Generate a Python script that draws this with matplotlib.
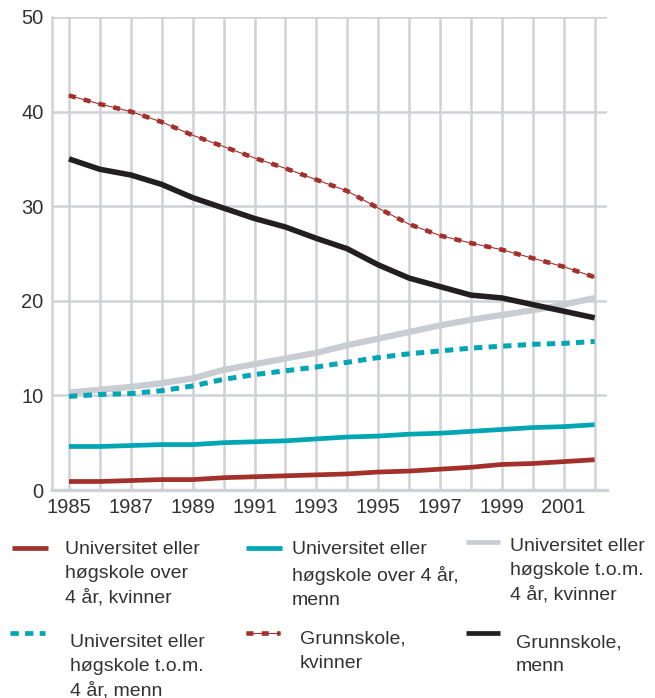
import numpy as np
import matplotlib
matplotlib.use("Agg")
import matplotlib.pyplot as plt
from matplotlib.lines import Line2D

## share of people aged ... by education level, 1985-2002
years = list(range(1985, 2003))

uni_over4_kvinner = [0.9, 0.9, 1.0, 1.1, 1.1, 1.3, 1.4, 1.5, 1.6, 1.7,
                     1.9, 2.0, 2.2, 2.4, 2.7, 2.8, 3.0, 3.2]
uni_over4_menn = [4.6, 4.6, 4.7, 4.8, 4.8, 5.0, 5.1, 5.2, 5.4, 5.6,
                  5.7, 5.9, 6.0, 6.2, 6.4, 6.6, 6.7, 6.9]
uni_tom4_kvinner = [10.3, 10.6, 10.9, 11.3, 11.8, 12.7, 13.3, 13.9, 14.5, 15.3,
                    16.0, 16.7, 17.4, 18.0, 18.5, 19.0, 19.6, 20.3]
uni_tom4_menn = [9.9, 10.1, 10.2, 10.5, 11.0, 11.7, 12.2, 12.6, 13.0, 13.5,
                 14.0, 14.4, 14.7, 15.0, 15.2, 15.4, 15.5, 15.7]
grunn_kvinner = [41.7, 40.8, 40.0, 38.9, 37.5, 36.3, 35.1, 34.0, 32.8, 31.6,
                 29.8, 28.1, 26.9, 26.1, 25.4, 24.5, 23.6, 22.5]
grunn_menn = [35.0, 33.9, 33.3, 32.3, 30.9, 29.8, 28.7, 27.8, 26.6, 25.5,
              23.8, 22.4, 21.5, 20.6, 20.3, 19.6, 18.9, 18.2]

labels = ["Universitet eller\nhøgskole over\n4 år, kvinner",
          "Universitet eller\nhøgskole over 4 år,\nmenn",
          "Universitet eller\nhøgskole t.o.m.\n4 år, kvinner",
          "Universitet eller\nhøgskole t.o.m.\n4 år, menn",
          "Grunnskole,\nkvinner",
          "Grunnskole,\nmenn"]

RED = "#a3302a"
TEAL = "#00a6b4"
GREY = "#c9ccd3"
BLACK = "#231f20"
GRID = "#cfd1d7"
TXT = "#333333"

plt.rcParams['font.family'] = ['Liberation Sans', 'DejaVu Sans']
plt.rcParams['lines.scale_dashes'] = False

fig = plt.figure(figsize=(6.55, 6.98), dpi=100)
ax = fig.add_axes([52/655, 1 - 490/698, (607-52)/655, (490-17)/698])

ax.plot(years, uni_tom4_kvinner, color=GREY, lw=4.5, solid_capstyle='butt', zorder=3)
ax.plot(years, uni_tom4_menn, color=TEAL, lw=3.6, dashes=(6, 4.5), dash_capstyle='butt', zorder=4)
ax.plot(years, uni_over4_kvinner, color=RED, lw=3.4, solid_capstyle='butt', zorder=4)
ax.plot(years, uni_over4_menn, color=TEAL, lw=3.4, solid_capstyle='butt', zorder=4)
ax.plot(years, grunn_menn, color=BLACK, lw=4.0, solid_capstyle='butt', zorder=5)
ax.plot(years, grunn_kvinner, color=RED, lw=0.8, zorder=5)
ax.plot(years, grunn_kvinner, color=RED, lw=3.3, dashes=(5, 6), dash_capstyle='butt', zorder=5)

ax.set_xlim(1984.45, 2002.4)
ax.set_ylim(0, 50)
ax.set_xticks(range(1985, 2002, 2))
ax.set_xticks(years, minor=True)
ax.set_yticks(range(0, 51, 10))
ax.grid(True, which='both', axis='x', color=GRID, lw=1.8)
ax.grid(True, axis='y', color=GRID, lw=1.8)
ax.set_axisbelow(True)
ax.tick_params(which='both', length=0, labelsize=14.5, labelcolor=TXT)
ax.tick_params(axis='x', pad=6)
ax.tick_params(axis='y', pad=6)
for s in ['top', 'right']:
    ax.spines[s].set_visible(False)
ax.spines['left'].set_color(GRID)
ax.spines['left'].set_linewidth(1.8)
ax.spines['bottom'].set_color(GRID)
ax.spines['bottom'].set_linewidth(2.4)

## legend drawn by hand so the handles sit at the first text line
def fx(px):
    return px / 655

def fy(py):
    return 1 - py / 698

def handle(x0, x1, y, **kw):
    fig.add_artist(Line2D([fx(x0), fx(x1)], [fy(y), fy(y)], transform=fig.transFigure, **kw))

handle(12, 48, 548, color=RED, lw=3.4, solid_capstyle='butt')
handle(246, 282, 548, color=TEAL, lw=3.4, solid_capstyle='butt')
handle(466, 500, 542, color=GREY, lw=3.4, solid_capstyle='butt')
handle(10, 45, 633, color=TEAL, lw=3.4, dashes=(6, 4.5), dash_capstyle='butt')
handle(246, 280, 633, color=RED, lw=0.8)
handle(246, 280, 633, color=RED, lw=3.3, dashes=(5, 6), dash_capstyle='butt')
handle(466, 500, 633, color=BLACK, lw=3.4, solid_capstyle='butt')

txt_pos = [(65, 541), (292, 541), (510, 538), (70, 634), (300, 631), (516, 634)]
for (px, py), lab in zip(txt_pos, labels):
    fig.text(fx(px), fy(py), lab, ha='left', va='top', fontsize=14, color=TXT,
             linespacing=1.52)

fig.savefig("out.png", dpi=100)
